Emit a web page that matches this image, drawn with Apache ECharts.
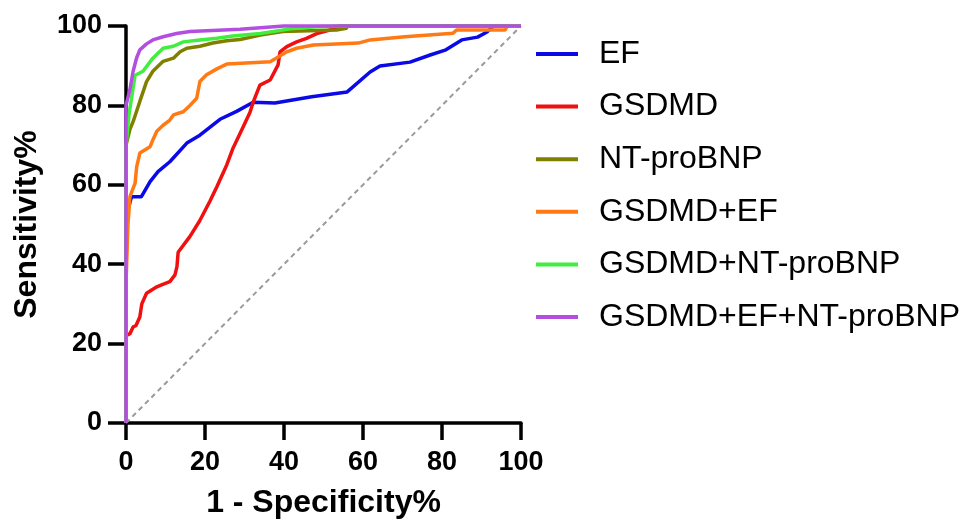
<!DOCTYPE html>
<html>
<head>
<meta charset="utf-8">
<script src="https://cdn.jsdelivr.net/npm/echarts@6/dist/echarts.min.js"></script>
<style>
html,body{margin:0;padding:0;background:#fff;}
#chart{width:966px;height:525px;}
</style>
</head>
<body>
<div id="chart"></div>
<script>
const seriesNames = ['EF', 'GSDMD', 'NT-proBNP', 'GSDMD+EF', 'GSDMD+NT-proBNP', 'GSDMD+EF+NT-proBNP'];
const seriesColors = ['#0a0ae6', '#f01010', '#808000', '#ff7a14', '#40ee40', '#b44ee0'];
const axisTicks = [0, 20, 40, 60, 80, 100];

const efX = [0, 0, 1.4, 3.9, 6.1, 8.1, 11.1, 15.4, 18.7, 23.8, 28, 32.2, 37.7, 47, 56, 61.8, 64.3, 71.9, 77, 81, 85, 89, 91.4, 93, 100];
const efY = [0, 52, 57, 57, 60.8, 63.3, 65.8, 70.5, 72.5, 76.5, 78.5, 80.8, 80.6, 82.2, 83.4, 88.4, 89.9, 90.9, 92.7, 94, 96.5, 97.2, 98.5, 100, 100];

const gsdmdX = [0, 0, 1, 1.8, 2.5, 3.5, 4, 5.2, 7.8, 9, 11.1, 12.4, 12.9, 13.2, 16.2, 18.7, 21.3, 23, 25.5, 27, 28.9, 31.4, 32.2, 33.9, 36.5, 38.5, 39, 40.7, 43.2, 45.7, 48.3, 51.6, 54, 100];
const gsdmdY = [0, 22, 22.5, 24.2, 24.5, 26.7, 30, 32.7, 34.3, 34.8, 35.6, 37.3, 39.4, 43, 47, 51, 56, 59.5, 65, 69, 73, 78.3, 80.8, 85.1, 86.4, 90.2, 93.5, 94.8, 96, 96.9, 98.1, 99, 100, 100];

const ntX = [0, 0, 1, 1.8, 3.5, 5.2, 6.8, 9.4, 12, 13.7, 15.4, 18.7, 22, 25.5, 28.9, 34, 39.7, 53.3, 55.8, 56, 100];
const ntY = [0, 70, 74, 75.9, 81, 86, 88.6, 91.1, 91.9, 93.5, 94.4, 94.9, 95.7, 96.3, 96.6, 97.7, 98.6, 99, 99.4, 100, 100];

const gEfX = [0, 0, 0.5, 1, 2.3, 2.7, 3.5, 6.1, 6.8, 7.8, 9.4, 11.1, 12, 14.5, 16.2, 17.9, 18.7, 20.4, 23, 25.5, 36.5, 38, 40.7, 43.2, 47.4, 58.8, 61.8, 70.6, 82.8, 83.7, 96, 96.5, 100];
const gEfY = [0, 35, 50, 57, 60.4, 64.5, 68, 69.6, 71.3, 73.5, 75, 76.3, 77.6, 78.4, 80, 81.8, 86, 87.7, 89.2, 90.4, 91, 91.9, 93.5, 94.4, 95.2, 95.7, 96.5, 97.3, 98.2, 99, 99, 100, 100];

const gNtX = [0, 0, 0.8, 1.4, 1.8, 2.3, 4.3, 6.8, 9.4, 12, 14.5, 18.7, 23, 27, 34, 42.4, 48.3, 55, 100];
const gNtY = [0, 70, 78, 81.8, 84.4, 87.6, 88.6, 91.9, 94.4, 94.9, 96, 96.5, 96.9, 97.5, 98.1, 99.4, 99.8, 100, 100];

const allX = [0, 0, 1, 1.8, 2.7, 3.5, 5.2, 6.8, 9.4, 12.8, 16.2, 28.9, 40, 100];
const allY = [0, 80, 84, 88.6, 92, 94, 95.5, 96.5, 97.3, 98.1, 98.6, 99.2, 100, 100];

const refX = [0, 100];
const refY = [0, 100];

const xs = [efX, gsdmdX, ntX, gEfX, gNtX, allX];
const ys = [efY, gsdmdY, ntY, gEfY, gNtY, allY];

function pairs(x, y) { return x.map((v, i) => [v, y[i]]); }

const FONT = 'Arial, "Liberation Sans", Helvetica, sans-serif';

const series = [{
  name: 'ref',
  type: 'line',
  data: pairs(refX, refY),
  symbol: 'none',
  silent: true,
  clip: false,
  lineStyle: { color: '#9a9a9a', width: 2, type: [5, 4] },
  z: 1
}];
seriesNames.forEach((n, i) => {
  series.push({
    name: n,
    type: 'line',
    data: pairs(xs[i], ys[i]),
    symbol: 'none',
    clip: false,
    lineStyle: { color: seriesColors[i], width: 3.5 },
    itemStyle: { color: seriesColors[i] },
    z: 3 + i
  });
});

const chart = echarts.init(document.getElementById('chart'), null, { renderer: 'canvas' });
chart.setOption({
  animation: false,
  backgroundColor: '#fff',
  grid: { left: 126, right: 445, top: 26, bottom: 102, containLabel: false },
  legend: {
    data: seriesNames,
    orient: 'vertical',
    left: 531,
    top: 33,
    itemWidth: 42,
    itemHeight: 4,
    itemGap: 20.6,
    icon: 'rect',
    textStyle: { fontFamily: FONT, fontSize: 32, color: '#000', lineHeight: 32, padding: [0, 0, 0, 16] }
  },
  xAxis: {
    type: 'value',
    min: 0, max: 100, interval: 20,
    name: '1 - Specificity%',
    nameLocation: 'middle',
    nameGap: 64,
    nameTextStyle: { fontFamily: FONT, fontSize: 32, fontWeight: 'bold', color: '#000' },
    axisLine: { show: true, lineStyle: { color: '#000', width: 3.5 } },
    axisTick: { show: true, length: 17, lineStyle: { color: '#000', width: 3.5 } },
    axisLabel: { fontFamily: FONT, fontSize: 27, fontWeight: 'bold', color: '#000', margin: 26,
      formatter: v => axisTicks.includes(v) ? String(v) : '' },
    splitLine: { show: false }
  },
  yAxis: {
    type: 'value',
    min: 0, max: 100, interval: 20,
    name: 'Sensitivity%',
    nameLocation: 'middle',
    nameRotate: 90,
    nameGap: 83,
    nameTextStyle: { fontFamily: FONT, fontSize: 32, fontWeight: 'bold', color: '#000', padding: [0, 0, 0, 0] },
    axisLine: { show: true, lineStyle: { color: '#000', width: 3.5 } },
    axisTick: { show: true, length: 18, lineStyle: { color: '#000', width: 3.5 } },
    axisLabel: { fontFamily: FONT, fontSize: 27, fontWeight: 'bold', color: '#000', margin: 24,
      formatter: v => axisTicks.includes(v) ? String(v) : '' },
    splitLine: { show: false }
  },
  series: series
});
</script>
</body>
</html>
